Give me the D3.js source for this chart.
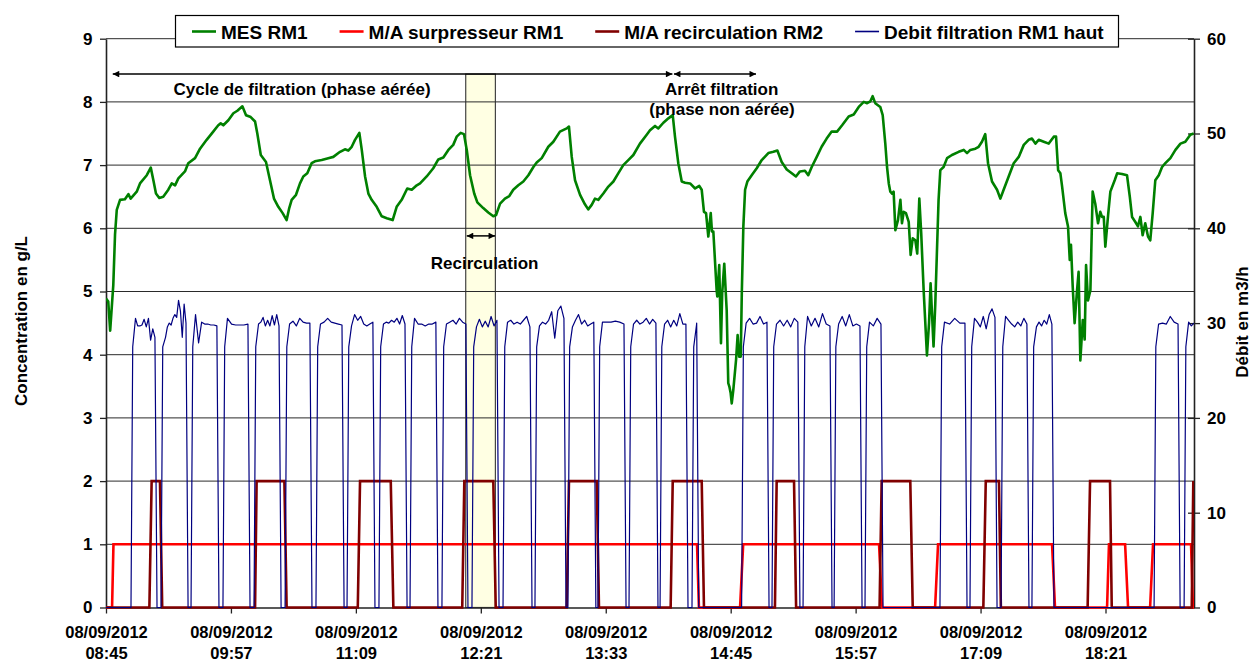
<!DOCTYPE html>
<html><head><meta charset="utf-8">
<script src="https://cdn.jsdelivr.net/npm/d3@7"></script>
<style>
html,body{margin:0;padding:0;background:#fff;}
svg text{font-family:"Liberation Sans",Arial,sans-serif;font-weight:bold;fill:#000;}
</style></head><body>
<svg id="chart" width="1252" height="662"></svg>
<script>
// ---------------- DATA ----------------
// time axis: minutes after 08/09/2012 08:45
const xTickMinutes = [0, 72, 144, 216, 288, 360, 432, 504, 576];
const xTickDates = ["08/09/2012","08/09/2012","08/09/2012","08/09/2012","08/09/2012","08/09/2012","08/09/2012","08/09/2012","08/09/2012"];
const xTickTimes = ["08:45","09:57","11:09","12:21","13:33","14:45","15:57","17:09","18:21"];
const leftTicks = [0,1,2,3,4,5,6,7,8,9];
const rightTicks = [0,10,20,30,40,50,60];
const seriesNames = ["MES RM1","M/A surpresseur RM1","M/A recirculation RM2","Debit filtration RM1 haut"];

// MES RM1 (g/L) : [minute, value]
const mes = [[0,4.89],[1.3,4.84],[2.4,4.38],[4.2,5.1],[5.2,5.9],[6.2,6.29],[8.1,6.45],[10.9,6.46],[12.9,6.54],[14.2,6.47],[17.7,6.58],[19.6,6.71],[23.5,6.84],[25.8,6.96],[27.3,6.76],[28.8,6.55],[30.7,6.48],[33.0,6.5],[35.9,6.61],[37.9,6.71],[39.8,6.68],[41.7,6.79],[45.5,6.9],[47.4,7.03],[51.3,7.11],[54.2,7.26],[58.0,7.4],[61.8,7.53],[64.7,7.63],[66.1,7.66],[67.6,7.63],[70.5,7.71],[73.4,7.82],[75.7,7.86],[78.6,7.93],[80.7,7.79],[83.4,7.76],[85.9,7.69],[87.2,7.5],[89.2,7.16],[92.2,7.05],[94.5,6.76],[96.8,6.47],[99.3,6.34],[101.8,6.24],[104.1,6.13],[105.6,6.32],[107.0,6.45],[109.5,6.53],[111.8,6.71],[113.7,6.82],[116.0,6.87],[118.5,7.03],[120.4,7.06],[124.3,7.08],[128.1,7.11],[131.0,7.13],[134.9,7.21],[137.7,7.25],[139.6,7.23],[141.6,7.29],[143.5,7.4],[146.0,7.51],[147.4,7.24],[149.3,6.82],[151.2,6.55],[153.1,6.45],[156.0,6.34],[158.9,6.19],[161.8,6.16],[165.2,6.13],[167.5,6.34],[170.4,6.45],[173.6,6.63],[176.2,6.61],[179.1,6.68],[181.0,6.71],[184.8,6.82],[188.6,6.95],[191.5,7.09],[194.4,7.12],[197.3,7.24],[200.1,7.32],[202.1,7.45],[204.4,7.51],[206.3,7.49],[207.9,7.24],[209.8,6.84],[212.2,6.55],[214.0,6.41],[217.4,6.32],[220.3,6.25],[223.2,6.19],[224.8,6.21],[227.1,6.39],[229.9,6.47],[232.4,6.51],[234.7,6.61],[237.6,6.68],[240.5,6.74],[243.4,6.84],[246.3,6.97],[248.2,7.04],[251.1,7.11],[254.9,7.29],[257.8,7.37],[261.6,7.53],[265.5,7.58],[266.8,7.61],[268.4,7.13],[270.3,6.76],[273.2,6.53],[276.0,6.38],[277.9,6.3],[279.9,6.37],[281.8,6.47],[283.7,6.45],[286.6,6.55],[289.5,6.66],[292.4,6.74],[295.2,6.87],[298.1,7.0],[301.0,7.08],[303.9,7.16],[307.7,7.34],[311.6,7.48],[313.5,7.55],[316.4,7.62],[318.3,7.58],[321.2,7.67],[324.1,7.74],[326.6,7.79],[327.9,7.45],[329.8,7.03],[331.8,6.74],[333.7,6.72],[336.6,6.71],[339.5,6.63],[341.9,6.67],[343.3,6.61],[344.6,6.26],[345.8,6.24],[347.1,5.87],[348.5,6.24],[349.2,5.95],[350.0,5.95],[351.9,5.02],[352.3,4.92],[353.4,5.42],[354.4,4.18],[355.1,4.97],[356.3,5.44],[357.7,4.7],[358.6,3.55],[359.2,3.5],[360.0,3.39],[360.6,3.23],[361.5,3.44],[363.1,3.92],[364.0,4.31],[364.9,3.97],[365.8,3.97],[366.4,4.97],[367.3,6.03],[368.3,6.61],[369.6,6.74],[372.1,6.84],[375.0,6.95],[377.9,7.08],[381.7,7.19],[384.6,7.21],[386.9,7.23],[389.4,7.05],[392.3,6.93],[395.2,6.87],[397.6,6.82],[399.9,6.9],[402.8,6.91],[404.7,6.84],[406.7,6.97],[409.6,7.13],[412.4,7.29],[415.3,7.42],[418.2,7.53],[421.3,7.53],[424.2,7.63],[428.0,7.77],[430.9,7.8],[433.8,7.92],[436.7,8.0],[438.6,7.98],[440.5,8.01],[441.8,8.09],[443.3,7.98],[446.2,7.92],[447.6,7.79],[449.1,7.34],[450.1,6.97],[451.1,6.71],[452.0,6.58],[453.0,6.55],[453.9,6.58],[454.9,5.97],[456.4,6.13],[457.8,6.45],[458.7,6.08],[459.7,6.26],[461.0,6.24],[462.6,6.1],[463.7,5.58],[464.9,5.84],[466.4,5.81],[467.5,5.6],[468.7,6.47],[469.8,5.92],[471.2,5.02],[473.1,3.99],[474.3,4.5],[475.2,5.13],[476.9,4.13],[477.9,4.8],[479.8,6.45],[480.8,6.92],[482.7,6.97],[484.7,7.11],[487.5,7.16],[491.4,7.21],[494.3,7.24],[496.2,7.19],[498.1,7.24],[501.0,7.26],[502.9,7.29],[504.8,7.37],[506.7,7.49],[508.3,7.03],[510.6,6.74],[513.5,6.61],[515.4,6.47],[517.3,6.61],[520.2,6.82],[523.1,7.03],[526.0,7.13],[528.9,7.32],[531.7,7.4],[533.6,7.42],[535.6,7.34],[537.5,7.4],[540.4,7.37],[543.3,7.34],[546.2,7.45],[547.5,7.45],[548.7,6.92],[550.0,6.87],[551.0,6.66],[552.8,6.24],[554.4,6.03],[555.4,5.5],[556.1,5.74],[557.1,5.08],[558.2,4.5],[559.6,5.02],[560.5,5.31],[561.5,3.91],[562.9,4.55],[564.0,4.24],[564.8,5.42],[565.9,4.86],[567.3,5.02],[568.6,6.58],[570.1,6.39],[571.7,6.08],[573.0,6.26],[574.0,6.18],[575.0,6.18],[575.9,5.71],[577.5,6.21],[578.8,6.58],[581.3,6.76],[582.7,6.87],[585.5,6.86],[588.4,6.84],[590.0,6.5],[591.3,6.18],[593.2,6.1],[594.7,6.03],[596.1,6.18],[597.4,5.89],[598.9,6.08],[600.5,5.87],[601.8,5.81],[603.2,6.24],[604.7,6.76],[606.7,6.84],[608.6,6.97],[610.5,7.03],[613.4,7.11],[616.3,7.24],[619.2,7.34],[622.0,7.37],[624.9,7.48],[626.8,7.5]];

// M/A surpresseur RM1 (0/1)
const surpT = [0,3.5,4.3,340.6,341.7,365.4,367.2,445.5,447.2,477.8,479.5,545.2,546.9,576.9,578.0,587.3,589.0,601.7,603.4,625.3,626.4,627];
const surpV = [0,0,1,1,0,0,1,1,0,0,1,1,0,0,1,1,0,0,1,1,0,0];

// M/A recirculation RM2 (0/2)
const recT = [0,25.0,26.3,31.1,32.4,85.9,86.8,102.8,104.1,145.1,146.4,164.1,165.6,205.3,206.5,223.2,224.6,265.5,266.8,282.8,284.1,325.4,326.6,343.3,344.6,385.5,386.5,396.5,397.7,445.8,447.0,463.5,464.9,505.6,507.0,514.6,515.7,565.7,567.1,578.6,579.6,625.7,626.6];
const recV = [0,0,2,2,0,0,2,2,0,0,2,2,0,0,2,2,0,0,2,2,0,0,2,2,0,0,2,2,0,0,2,2,0,0,2,2,0,0,2,2,0,0,2];

// Debit filtration RM1 haut (m3/h): pulses (start, stop) and readings along each pulse
const blueOn  = [14.4,31.7,49.0,67.4,85.3,103.2,121.0,138.9,157.3,175.2,193.6,210.9,228.8,247.2,266.2,283.5,301.4,319.3,337.7,366.3,383.8,401.7,419.6,437.4,480.6,497.9,515.8,533.6,604.0,621.3];
const blueOff = [29.4,47.3,65.1,83.0,100.9,118.7,137.2,155.0,173.5,191.3,208.6,226.5,245.5,265.1,282.3,299.7,318.1,335.4,341.6,382.1,399.9,418.4,435.7,447.8,496.2,513.5,531.9,546.3,619.0,null];
const blueTop = [
 [30.5,29.7,29.7,29.8,30.4,29.6,30.5,28.2,29.4,28.5],
 [28.5,29.6,30.0,29.8,30.5,30.9,30.6,32.4,31.3,28.5,32.0,30.0],
 [30.9,27.9,30.1,29.9,29.9,29.8,29.8,29.7],
 [30.5,29.9,29.8,29.8,29.8,29.9],
 [29.9,30.1,30.6,29.7,30.3,29.7,30.8,29.8,30.9,29.7],
 [29.9,30.2,29.7,30.5,30.1,30.0,30.0],
 [29.9,30.1,30.5,30.1,30.0,29.9,29.8],
 [29.7,30.9,30.3,30.7,29.9,29.7,29.9,30.1],
 [29.9,30.1,30.0,30.3,30.1,30.5,29.9,30.8,29.9],
 [30.5,29.9,29.9,29.7,29.9,29.9,30.1],
 [29.9,30.1,30.3,29.9,30.5,30.1,29.9],
 [29.6,30.4,29.6,30.2,29.6,30.7,29.7,30.3],
 [30.1,30.3,29.9,30.1,29.9,30.3,30.7,29.6],
 [29.7,30.1,29.9,30.3,31.2,28.4,31.3,31.8,30.5],
 [29.6,30.3,30.9,29.9,30.3,29.7,29.9,30.1],
 [30.1,30.1,30.1,30.2,30.1,29.9],
 [29.9,30.3,29.9,30.1,30.5,29.9,30.4,30.0],
 [29.9,30.3,29.6,30.3,29.7,31.0,29.9,29.9],
 [29.8,30.0],
 [30.0,30.5,29.9,30.0,30.7,29.9,30.1],
 [29.9,30.3,29.7,30.3,29.6,30.5,30.1],
 [30.7,29.7,30.5,29.6,31.0,29.9,29.7],
 [29.9,30.7,29.7,30.9,29.7,29.9,29.7],
 [30.1,29.7,30.5,29.9],
 [30.1,29.9,30.5,30.0,30.0],
 [30.5,30.1,29.6,30.7,29.4,30.9,31.5,30.6],
 [30.7,30.3,29.9,29.6,30.1,29.7,30.5,29.9],
 [29.6,30.1,29.7,30.3,29.9,30.9,29.9],
 [29.9,30.0,29.9,30.7,30.1,29.9],
 [30.1,29.7,30.0]
];
const blueKnee = 27.5; // value reached one sample after each start

// ---------------- CHART ----------------
const M = {l:106, r:1194, t:38.7, b:607.5};
const x  = d3.scaleLinear().domain([0,627]).range([M.l, M.r]);
const yL = d3.scaleLinear().domain([0,9]).range([M.b, M.t]);
const yR = d3.scaleLinear().domain([0,60]).range([M.b, M.t]);
const svg = d3.select("#chart");
const defs = svg.append("defs");
defs.append("clipPath").attr("id","plot").append("rect")
  .attr("x",M.l).attr("y",M.t-3).attr("width",M.r-M.l).attr("height",M.b-M.t+6);
defs.append("marker").attr("id","ah").attr("viewBox","0 0 10 10")
  .attr("refX",10).attr("refY",5).attr("markerWidth",8).attr("markerHeight",6.5)
  .attr("markerUnits","userSpaceOnUse").attr("orient","auto-start-reverse")
  .append("path").attr("d","M0,0L10,5L0,10z").attr("fill","#000");

// highlight (recirculation period)
svg.append("rect")
  .attr("x",x(207.3)).attr("y",yL(8.44))
  .attr("width",x(224.4)-x(207.3)).attr("height",yL(0)-yL(8.44))
  .attr("fill","#FFFFE3").attr("stroke","#444").attr("stroke-width",1.2);

// gridlines
svg.append("g").selectAll("line").data(leftTicks.filter(d=>d>0)).join("line")
  .attr("x1",M.l).attr("x2",M.r).attr("y1",d=>yL(d)).attr("y2",d=>yL(d))
  .attr("stroke","#2a2a2a").attr("stroke-width",1);

// axes
const gl = svg.append("g").attr("transform",`translate(${M.l},0)`)
  .call(d3.axisLeft(yL).tickValues(leftTicks).tickSize(6).tickSizeOuter(0).tickPadding(7.5));
const gr = svg.append("g").attr("transform",`translate(${M.r},0)`)
  .call(d3.axisRight(yR).tickValues(rightTicks).tickSize(6).tickSizeOuter(0).tickPadding(7));
gr.selectAll(".tick line").attr("x1",-6).attr("x2",6);
const gb = svg.append("g").attr("transform",`translate(0,${M.b})`)
  .call(d3.axisBottom(x).tickValues(xTickMinutes).tickSize(6).tickSizeOuter(0).tickFormat(""));
[gl,gr,gb].forEach(g=>{
  g.select(".domain").attr("stroke","#222").attr("stroke-width",1.6);
  g.selectAll(".tick line").attr("stroke","#222").attr("stroke-width",1.3);
  g.selectAll(".tick text").attr("font-size",17).attr("font-family",'"Liberation Sans",Arial,sans-serif').attr("font-weight","bold").attr("fill","#000");
});
gb.selectAll(".tick").each(function(d,i){
  const t = d3.select(this).select("text");
  t.text(null).attr("y",null).attr("dy",null).attr("font-size",16.5);
  t.append("tspan").attr("x",0).attr("y",30.5).text(xTickDates[i]);
  t.append("tspan").attr("x",0).attr("y",51).text(xTickTimes[i]);
});

// series
const plot = svg.append("g").attr("clip-path","url(#plot)");
const lineL = d3.line().x(d=>x(d[0])).y(d=>yL(d[1]));
const lineR = d3.line().x(d=>x(d[0])).y(d=>yR(d[1]));

plot.append("path").datum(mes).attr("d",lineL)
  .attr("fill","none").attr("stroke","#008000").attr("stroke-width",2.6).attr("stroke-linejoin","round");
plot.append("path").datum(surpT.map((t,i)=>[t,surpV[i]])).attr("d",lineL)
  .attr("fill","none").attr("stroke","#FF0000").attr("stroke-width",2.6);
plot.append("path").datum(recT.map((t,i)=>[t,recV[i]])).attr("d",lineL)
  .attr("fill","none").attr("stroke","#800000").attr("stroke-width",2.6);

const bluePts = [[0,0]];
blueOn.forEach((on,i)=>{
  const off = blueOff[i];
  const tops = blueTop[i];
  const a = on + 2.6;
  const b = off === null ? 627 : off - 1.2;
  bluePts.push([on,0],[on+1.0,blueKnee]);
  tops.forEach((v,k)=>bluePts.push([a + (b-a)*k/(tops.length-1), v]));
  if (off !== null) bluePts.push([off,0]);
});
plot.append("path").datum(bluePts).attr("d",lineR)
  .attr("fill","none").attr("stroke","#000080").attr("stroke-width",1.2).attr("stroke-linejoin","round");

// annotations
function arrow(t1,t2,v){
  svg.append("line").attr("x1",x(t1)).attr("x2",x(t2)).attr("y1",yL(v)).attr("y2",yL(v))
    .attr("stroke","#000").attr("stroke-width",1.5)
    .attr("marker-start","url(#ah)").attr("marker-end","url(#ah)");
}
arrow(3.9,326.4,8.44);
arrow(327.3,374.6,8.44);
arrow(207.9,224.2,5.88);
function label(t,v,s){
  svg.append("text").attr("x",x(t)).attr("y",yL(v)).attr("text-anchor","middle")
    .attr("font-size",17).text(s);
}
label(113,8.115,"Cycle de filtration (phase aérée)");
label(354.8,8.115,"Arrêt filtration");
label(355.0,7.785,"(phase non aérée)");
label(218.2,5.36,"Recirculation");

// axis titles
svg.append("text").attr("transform","translate(26.5,321) rotate(-90)")
  .attr("text-anchor","middle").attr("font-size",17).text("Concentration en g/L");
svg.append("text").attr("transform","translate(1247.5,322) rotate(-90)")
  .attr("text-anchor","middle").attr("font-size",17).text("Débit en m3/h");

// legend
const lg = svg.append("g");
lg.append("rect").attr("x",175.5).attr("y",15.5).attr("width",943).attr("height",31.5)
  .attr("fill","#fff").attr("stroke","#000").attr("stroke-width",1.2);
const legColors = ["#008000","#FF0000","#800000","#000080"];
const legWidths = [2.6,2.6,2.6,1.6];
let lx = 192;
seriesNames.forEach((n,i)=>{
  lg.append("line").attr("x1",lx).attr("x2",lx+24).attr("y1",31.5).attr("y2",31.5)
    .attr("stroke",legColors[i]).attr("stroke-width",legWidths[i]);
  const tx = lg.append("text").attr("x",lx+29).attr("y",39).attr("font-size",19).text(n);
  lx = lx + 29 + tx.node().getComputedTextLength() + 32;
});
</script>
</body></html>
